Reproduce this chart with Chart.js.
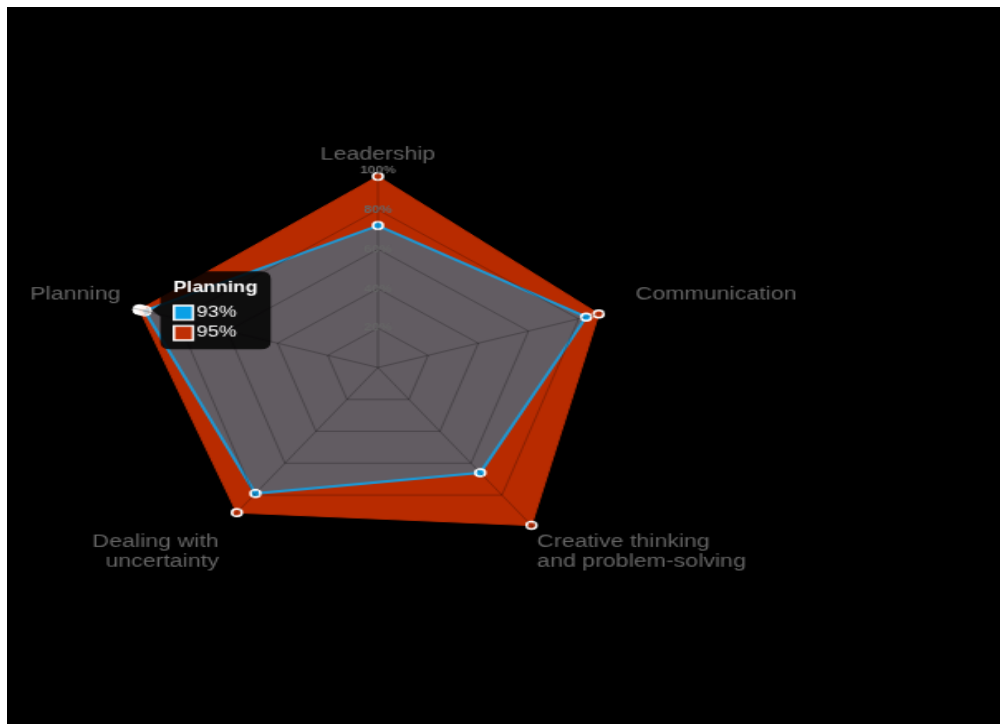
<!DOCTYPE html>
<html>
<head>
<meta charset="utf-8">
<title>Skills radar</title>
<script src="https://cdn.jsdelivr.net/npm/chart.js@4.4.1/dist/chart.umd.min.js"></script>
<style>
    html, body { margin: 0; padding: 0; background: #fff; }
    #stage {
        position: absolute;
        left: 7px;
        top: 7px;
        width: 993px;
        height: 717px;
        background: #000;
        overflow: hidden;
    }
    #skillsChart {
        position: absolute;
        left: -10px;
        top: 13px;
    }
</style>
</head>
<body>
<div id="stage">
    <canvas id="skillsChart" width="506" height="560" style="width:838px;height:693px"></canvas>
</div>
<script>
const skills = ['Leadership', 'Communication', ['Creative thinking', 'and problem-solving'], ['Dealing with', 'uncertainty'], 'Planning'];
const selfScores = [72, 83, 66, 79, 93];
const teamScores = [97, 88, 99, 91, 95];
const tickValues = [0, 20, 40, 60, 80, 100];

const blue = '#1f97d2';
const red = '#b82b00';

// the original canvas is stretched, wider than it is tall
const stretchX = 838 / 506;
const stretchY = 693 / 560;
const centerOnStage = { x: 371, y: 360 };

Chart.defaults.font.family = "'Liberation Sans', Arial, sans-serif";

window.onload = function () {
    const canvas = document.getElementById('skillsChart');
    const chart = new Chart(canvas.getContext('2d'), {
        type: 'radar',
        data: {
            labels: skills,
            datasets: [{
                label: 'Self',
                data: selfScores,
                fill: true,
                backgroundColor: '#625c62',
                borderColor: blue,
                borderWidth: 2,
                pointRadius: 3,
                pointBorderWidth: 1.5,
                pointBackgroundColor: '#129fe2',
                pointBorderColor: '#fff',
                pointHoverRadius: 4,
                pointHoverBackgroundColor: 'rgba(255,235,225,0.75)',
                pointHoverBorderColor: '#fff'
            }, {
                label: 'Team',
                data: teamScores,
                fill: true,
                backgroundColor: red,
                borderColor: red,
                borderWidth: 1,
                pointRadius: 3,
                pointBorderWidth: 1.5,
                pointBackgroundColor: '#c0330a',
                pointBorderColor: '#fff',
                pointHoverRadius: 4,
                pointHoverBackgroundColor: '#fff',
                pointHoverBorderColor: '#fff'
            }]
        },
        options: {
            responsive: false,
            animation: false,
            devicePixelRatio: 1,
            events: [],
            plugins: {
                legend: { display: false },
                tooltip: {
                    backgroundColor: 'rgba(0,0,0,0.85)',
                    padding: { left: 8, right: 8, top: 6, bottom: 6 },
                    caretPadding: 6,
                    titleAlign: 'center',
                    callbacks: {
                        label: (item) => item.formattedValue + '%',
                        labelColor: (item) => ({
                            borderColor: '#fff',
                            backgroundColor: item.datasetIndex === 0 ? '#0aa0e6' : '#bf2f05'
                        })
                    }
                }
            },
            scales: {
                r: {
                    min: tickValues[0],
                    max: tickValues[tickValues.length - 1],
                    ticks: {
                        z: 1,
                        stepSize: 20,
                        color: '#666',
                        font: { size: 8.5, weight: 'bold' },
                        showLabelBackdrop: false,
                        backdropPadding: 0,
                        callback: (v) => v + '%'
                    },
                    // grid on top of the filled areas
                    grid: { z: 1, color: 'rgba(0,0,0,0.25)' },
                    angleLines: { color: 'rgba(0,0,0,0.25)' },
                    pointLabels: {
                        color: '#666',
                        padding: 0,
                        font: { size: 14 }
                    }
                }
            }
        }
    });

    // move the canvas so the radar centre sits where it is in the screenshot
    const r = chart.scales.r;
    canvas.style.left = (centerOnStage.x - r.xCenter * stretchX) + 'px';
    canvas.style.top = (centerOnStage.y - r.yCenter * stretchY) + 'px';

    // show the tooltip on Planning, like in the screenshot
    const active = [{ datasetIndex: 0, index: 4 }, { datasetIndex: 1, index: 4 }];
    chart.setActiveElements(active);
    chart.tooltip.setActiveElements(active, { x: 0, y: 0 });
    chart.update();
};
</script>
</body>
</html>
